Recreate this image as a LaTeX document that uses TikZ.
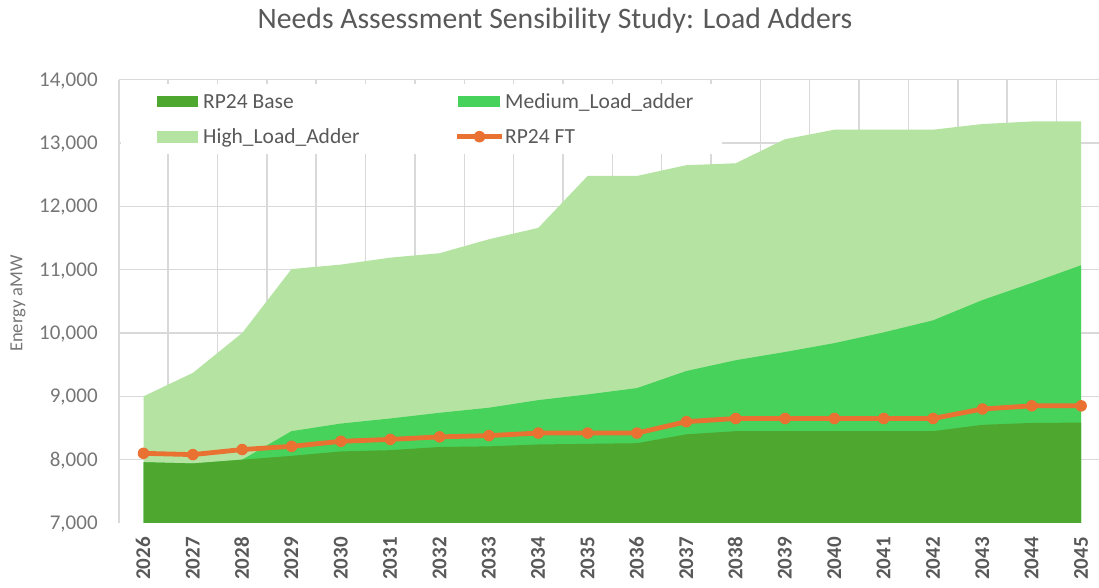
\documentclass[tikz,border=0pt]{standalone}
\usepackage{fontspec}
\setmainfont{Carlito}
\definecolor{baseG}{HTML}{4EA72E}
\definecolor{medG}{HTML}{47D25B}
\definecolor{highG}{HTML}{B5E4A2}
\definecolor{ftO}{HTML}{E97132}
\definecolor{gridC}{HTML}{D9D9D9}
\definecolor{txtC}{HTML}{595959}
\definecolor{tickC}{HTML}{767676}
\begin{document}
\begin{tikzpicture}[x=1pt,y=1pt,
  gridline/.style={draw=gridC, line width=1.5pt},
  titletext/.style={font=\fontsize{29.7}{30}\selectfont, text=txtC, inner sep=0pt},
  ticklab/.style={font=\fontsize{21}{21}\selectfont, text=tickC, inner sep=0pt, text height=13.3pt, text depth=0pt},
  yearlab/.style={font=\fontsize{21}{21}\selectfont\bfseries, text=txtC, rotate=90, inner sep=0pt, text height=13.3pt, text depth=0pt, anchor=east},
  axistitle/.style={font=\fontsize{18.5}{19}\selectfont, text=tickC, rotate=90, inner sep=0pt},
  legtext/.style={font=\fontsize{21.5}{22}\selectfont, text=txtC, anchor=west, inner sep=0pt, text height=13.8pt, text depth=0pt},
  ftline/.style={draw=ftO, line width=4.8pt, line join=round},
  ftdot/.style={circle, fill=ftO, inner sep=0pt, minimum size=11.5pt},
]
\fill[white] (0,0) rectangle (1099,588);
\useasboundingbox (0,0) rectangle (1099,588);

% chart title
\node[titletext, anchor=base] (title) at (555,559.7) {Needs Assessment Sensibility Study: Load Adders};

% plot area: x = year index (2026 = 0), y = thousands of aMW
\begin{scope}[shift={(143.5pt,-378.31pt)}, x=49.35pt, y=63.33pt]
  % gridlines and value axis line
  \foreach \v in {8,...,14} \draw[gridline] (-0.5,\v) -- (19.5,\v);
  \foreach \g in {-0.5,0.5,...,18.5} \draw[gridline] (\g,7) -- (\g,14);

  % stacked areas
  \fill[highG] (0,7) \foreach \v [count=\i from 0] in
    {9.00,9.37,10.00,11.01,11.08,11.19,11.26,11.48,11.66,12.48,12.48,12.65,12.68,13.06,13.21,13.21,13.21,13.30,13.34,13.34}
    {-- (\i,\v)} -- (19,7) -- cycle;
  \fill[medG] (0,7) \foreach \v [count=\i from 0] in
    {7.96,7.94,8.00,8.45,8.57,8.65,8.74,8.82,8.94,9.03,9.13,9.40,9.57,9.70,9.84,10.01,10.20,10.52,10.79,11.07}
    {-- (\i,\v)} -- (19,7) -- cycle;
  \fill[baseG] (0,7) \foreach \v [count=\i from 0] in
    {7.96,7.94,8.00,8.06,8.13,8.15,8.20,8.21,8.24,8.25,8.26,8.40,8.45,8.45,8.45,8.45,8.45,8.55,8.58,8.585}
    {-- (\i,\v)} -- (19,7) -- cycle;

  % RP24 FT series
  \foreach \v [count=\i from 0] in
    {8.10,8.08,8.16,8.21,8.29,8.32,8.36,8.38,8.42,8.42,8.42,8.60,8.65,8.65,8.65,8.65,8.65,8.80,8.85,8.85}
    \coordinate (ft\i) at (\i,\v);
  \draw[ftline] (ft0) \foreach \i in {1,...,19} {-- (ft\i)};
  \foreach \i in {0,...,19} \node[ftdot] (m\i) at (ft\i) {};

  % value axis labels
  \foreach \v/\t in {7/{7,000},8/{8,000},9/{9,000},10/{10,000},11/{11,000},12/{12,000},13/{13,000},14/{14,000}}
    \node[ticklab, anchor=east] (v\v) at ([xshift=-21pt]-0.5,\v) {\t};

  % category axis labels
  \foreach \i in {0,...,19} {
    \pgfmathtruncatemacro\yr{2026+\i}
    \node[yearlab] (yr\i) at ([yshift=-14pt]\i,7) {\yr};
  }
\end{scope}

% value axis title
\node[axistitle] (ytitle) at (18,284.5) {Energy aMW};

% legend
\fill[white] (121,434) rectangle (722,504);
\fill[baseG] (157,480.7) rectangle (198,492.3);
\node[legtext] (lbase) at (203,486.5) {RP24 Base};
\fill[medG] (458,480.7) rectangle (500,492.3);
\node[legtext] (lmed) at (505,486.5) {Medium\_Load\_adder};
\fill[highG] (157,445.3) rectangle (198,457.3);
\node[legtext] (lhigh) at (203,451.3) {High\_Load\_Adder};
\coordinate (lfta) at (457,451.3);
\coordinate (lftb) at (502,451.3);
\draw[ftline] (lfta) -- (lftb);
\node[ftdot] (lftm) at (479.5,451.3) {};
\node[legtext] (lft) at (505,451.3) {RP24 FT};
\end{tikzpicture}
\end{document}
